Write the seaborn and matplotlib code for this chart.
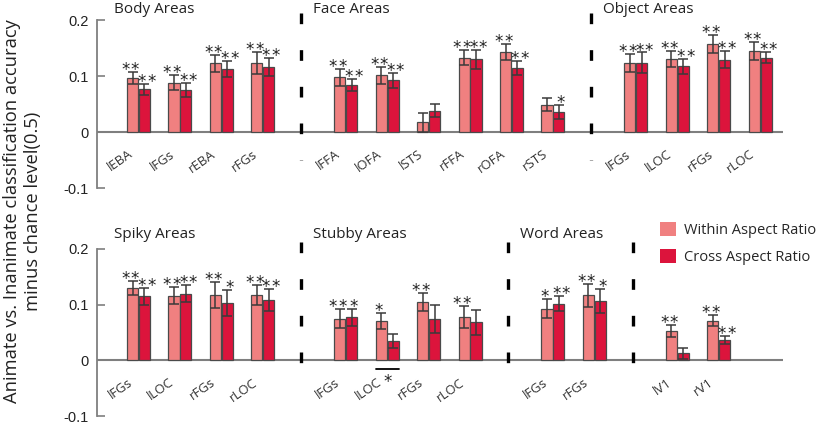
import matplotlib
matplotlib.use("Agg")
import matplotlib.pyplot as plt
import numpy as np
import pandas as pd
import seaborn as sns

# ---------------- data ----------------
conditions = ["Within Aspect Ratio", "Cross Aspect Ratio"]

top_titles = ["Body Areas", "Face Areas", "Object Areas"]
top_sizes = [4, 6, 4]
top_regions = ["lEBA", "lFGs", "rEBA", "rFGs",
               "lFFA", "lOFA", "lSTS", "rFFA", "rOFA", "rSTS",
               "lFGs", "lLOC", "rFGs", "rLOC"]
top_within = [0.097, 0.088, 0.123, 0.123, 0.098, 0.101, 0.017, 0.133, 0.143, 0.049,
              0.124, 0.130, 0.157, 0.144]
top_within_err = [0.011, 0.013, 0.015, 0.020, 0.015, 0.015, 0.017, 0.013, 0.014, 0.011,
                  0.016, 0.014, 0.016, 0.016]
top_cross = [0.076, 0.075, 0.113, 0.116, 0.084, 0.092, 0.038, 0.130, 0.114, 0.036,
             0.124, 0.117, 0.129, 0.133]
top_cross_err = [0.010, 0.013, 0.014, 0.016, 0.011, 0.014, 0.012, 0.017, 0.013, 0.013,
                 0.018, 0.014, 0.015, 0.010]
top_within_sig = ["**", "**", "**", "**", "**", "**", "", "**", "**", "", "**", "**", "**", "**"]
top_cross_sig = ["**", "**", "**", "**", "**", "**", "", "**", "**", "*", "**", "**", "**", "**"]
top_pair_sig = [""] * 14

bottom_titles = ["Spiky Areas", "Stubby Areas", "Word Areas", ""]
bottom_sizes = [4, 4, 2, 2]
bottom_regions = ["lFGs", "lLOC", "rFGs", "rLOC",
                  "lFGs", "lLOC", "rFGs", "rLOC",
                  "lFGs", "rFGs", "lV1", "rV1"]
bottom_within = [0.130, 0.116, 0.117, 0.118, 0.075, 0.071, 0.105, 0.078, 0.093, 0.117, 0.053, 0.071]
bottom_within_err = [0.012, 0.015, 0.023, 0.018, 0.017, 0.014, 0.016, 0.020, 0.017, 0.021, 0.011, 0.010]
bottom_cross = [0.115, 0.120, 0.103, 0.108, 0.077, 0.035, 0.074, 0.068, 0.102, 0.107, 0.013, 0.037]
bottom_cross_err = [0.015, 0.016, 0.023, 0.020, 0.015, 0.012, 0.025, 0.022, 0.013, 0.022, 0.010, 0.007]
bottom_within_sig = ["**", "**", "**", "**", "**", "*", "**", "**", "*", "**", "**", "**"]
bottom_cross_sig = ["**", "**", "*", "**", "*", "", "", "", "**", "*", "", "**"]
bottom_pair_sig = ["", "", "", "", "", "*", "", "", "", "", "", ""]

y_ticks = [-0.1, 0, 0.1, 0.2]
y_ticklabels = ["-0.1", "0", "0.1", "0.2"]
y_label = "Animate vs. Inanimate classification accuracy\nminus chance level(0.5)"

# ---------------- style ----------------
sns.set_style("white")
plt.rcParams["font.family"] = ["Open Sans", "DejaVu Sans"]

colors = ["#F08080", "#DC143C"]
GRAY = "#7f7f7f"
EDGE = "#4a4a4a"
TXT = "#222222"

fig = plt.figure(figsize=(8.2, 4.23), dpi=100)
ax_top = fig.add_axes([97 / 820, 1 - 188 / 423, 686 / 820, 168 / 423])
ax_bot = fig.add_axes([97 / 820, 1 - 416 / 423, 686 / 820, 167 / 423])


def layout(sizes):
    slots, gaps, starts = [], [], []
    pos = 0
    for i, n in enumerate(sizes):
        starts.append(pos)
        slots.extend(range(pos, pos + n))
        pos += n
        if i < len(sizes) - 1:
            gaps.append(pos)
            pos += 1
    return slots, gaps, starts


def draw_stars(ax, s, x, y, dx, dy, size=12, spacing=6.9):
    k = len(s)
    for i, ch in enumerate(s):
        off = dx + (i - (k - 1) / 2) * spacing
        ax.annotate(ch, (x, y), xytext=(off, dy), textcoords="offset points",
                    ha="center", va="baseline", fontsize=size,
                    family="DejaVu Sans", color=TXT, zorder=4)


def draw_panel(ax, titles, sizes, regions, w, we, c, ce, ws, cs, ps, legend, title_y):
    slots, gaps, starts = layout(sizes)
    n = len(regions)
    df = pd.DataFrame({
        "slot": slots * 2,
        "value": list(w) + list(c),
        "cond": [conditions[0]] * n + [conditions[1]] * n,
    })
    sns.barplot(data=df, x="slot", y="value", hue="cond", hue_order=conditions,
                native_scale=True, palette=colors, saturation=1, width=0.57, gap=0.06,
                edgecolor=EDGE, linewidth=0.9, errorbar=None, ax=ax,
                legend=legend, zorder=2)

    ax.set_xlim(-1.0, 15.55)
    ax.set_ylim(-0.1, 0.2)
    ax.axhline(0, color=GRAY, lw=1.5, zorder=1)

    bar_x = []
    for k, (cont, vals, errs, sigs) in enumerate(zip(ax.containers[:2], [w, c], [we, ce], [ws, cs])):
        patches = sorted(cont.patches, key=lambda p: p.get_x())
        xs = [p.get_x() + p.get_width() / 2 for p in patches]
        bar_x.append(patches)
        ax.errorbar(xs, vals, yerr=errs, fmt="none", ecolor="#3a3a3a",
                    elinewidth=1.1, capsize=3.8, capthick=1.1, zorder=3)
        dx = -1.6 if k == 0 else 1.6
        for x, v, e, s in zip(xs, vals, errs, sigs):
            if s:
                draw_stars(ax, s, x, v + e, dx, -2.2)

    # pairwise significance below the zero line
    for i, s in enumerate(ps):
        if s:
            left = bar_x[0][i].get_x()
            right = bar_x[1][i].get_x() + bar_x[1][i].get_width()
            ax.plot([left, right], [-0.016, -0.016], color="black", lw=1.3, zorder=3)
            draw_stars(ax, s, (left + right) / 2, -0.016, 0, -13)

    # region labels
    for x, r in zip(slots, regions):
        ax.text(x - 0.17, -0.037, r, rotation=35, rotation_mode="anchor",
                ha="right", va="center", fontsize=9.5, color="#333333")

    # group separators
    for g in gaps:
        ax.plot([g - 0.08, g - 0.08], [0.213, -0.05], color="black", lw=2.4,
                linestyle=(0, (3.2, 7.8)), clip_on=False, zorder=1,
                solid_capstyle="butt", dash_capstyle="butt")

    # group titles
    for k, (t, st) in enumerate(zip(titles, starts)):
        if not t:
            continue
        tx = -0.6 if k == 0 else st - 0.8
        ax.text(tx, title_y, t, ha="left", va="baseline", fontsize=11, color=TXT,
                clip_on=False)

    ax.set_xticks([])
    ax.set_xlabel("")
    ax.set_ylabel("")
    ax.set_yticks(y_ticks)
    ax.set_yticklabels(y_ticklabels, family="Liberation Sans", fontsize=10.5, color=TXT)
    ax.tick_params(axis="y", direction="in", length=6, width=1.2, color=GRAY, pad=6, left=True)
    for side in ["top", "right", "bottom"]:
        ax.spines[side].set_visible(False)
    ax.spines["left"].set_color(GRAY)
    ax.spines["left"].set_linewidth(1.3)
    ax.patch.set_alpha(0)


draw_panel(ax_top, top_titles, top_sizes, top_regions, top_within, top_within_err,
           top_cross, top_cross_err, top_within_sig, top_cross_sig, top_pair_sig, False, 0.212)
draw_panel(ax_bot, bottom_titles, bottom_sizes, bottom_regions, bottom_within, bottom_within_err,
           bottom_cross, bottom_cross_err, bottom_within_sig, bottom_cross_sig, bottom_pair_sig, True, 0.219)

sns.move_legend(ax_bot, loc="upper left", bbox_to_anchor=(653 / 820, 1 - 215 / 423),
                bbox_transform=fig.transFigure, frameon=False, title=None,
                fontsize=10.5, handlelength=1.1, handleheight=1.1,
                handletextpad=0.55, labelspacing=0.75, borderpad=0)
for h in ax_bot.get_legend().legend_handles:
    h.set_edgecolor("none")

fig.text(0.0275, 0.5, y_label, rotation=90, ha="center", va="center",
         multialignment="center", fontsize=13.2, linespacing=1.2, color=TXT)

fig.savefig("out.png", dpi=100)
